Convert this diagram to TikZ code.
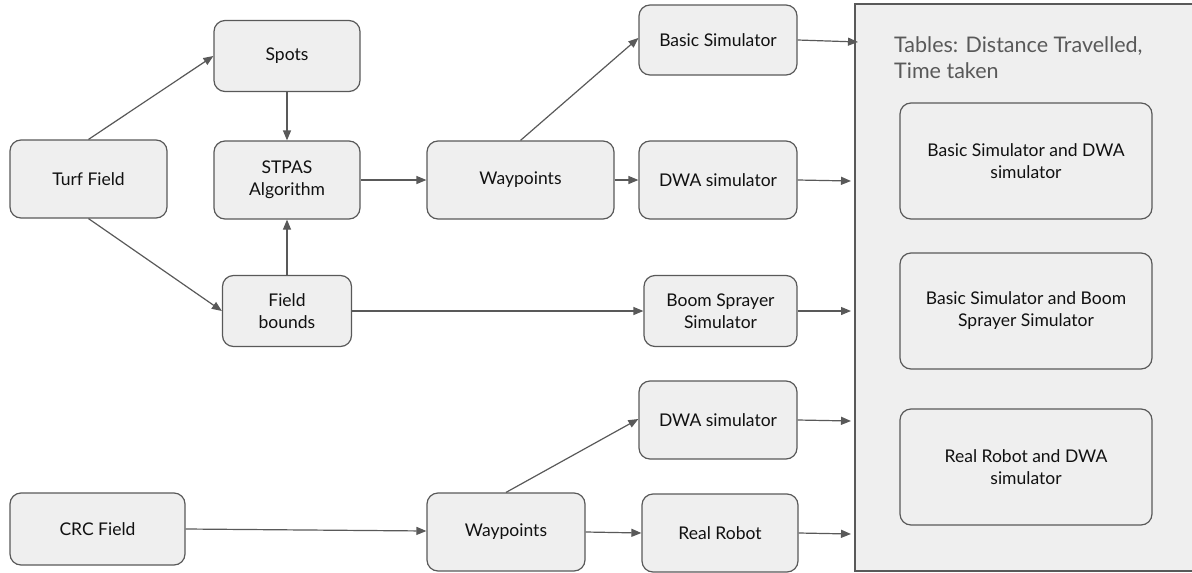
\documentclass[tikz,border=0pt]{standalone}
\usepackage{fontspec}
\setmainfont{Lato}
\usetikzlibrary{arrows.meta}
\definecolor{edge}{HTML}{595959}
\definecolor{boxfill}{HTML}{EFEFEF}
\definecolor{txt}{HTML}{111111}
\tikzset{
  box/.style={draw=edge, fill=boxfill, line width=1.2pt, rounded corners=11pt, align=center, text=txt, font=\fontsize{17.5}{22}\selectfont, inner sep=0pt},
  conn/.style={draw=edge, line width=1.2pt, -{Triangle[length=10pt,width=8pt]}},
}
\begin{document}
\begin{tikzpicture}[x=1pt,y=-1pt]
\useasboundingbox (0,0) rectangle (1192,573);
\begin{scope}
\clip (0,0) rectangle (1192,573);
\node[draw=edge, fill=boxfill, line width=1.2pt, minimum width=360, minimum height=567, inner sep=0pt] (tables) at (1035,287.5) {};
\end{scope}
\node[anchor=north west, align=left, text=edge, font=\fontsize{21.5}{26}\selectfont, inner sep=0pt] (title) at (894,36) {Tables: Distance Travelled,\\Time taken};
\node[box, minimum width=252, minimum height=116] (in1) at (1026,161) {Basic Simulator and DWA\\simulator};
\node[box, minimum width=252, minimum height=116] (in2) at (1026,311) {Basic Simulator and Boom\\Sprayer Simulator};
\node[box, minimum width=252, minimum height=116] (in3) at (1026,467) {Real Robot and DWA\\simulator};

\node[box, minimum width=157, minimum height=78] (turf) at (88.5,179) {Turf Field};
\node[box, minimum width=146, minimum height=71] (spots) at (287,56) {Spots};
\node[box, minimum width=146, minimum height=78] (stpas) at (287,180) {STPAS\\Algorithm};
\node[box, minimum width=129, minimum height=71] (bounds) at (287,311) {Field\\bounds};
\node[box, minimum width=187, minimum height=78] (way1) at (520.5,180) {Waypoints};
\node[box, minimum width=158, minimum height=70] (basic) at (718,40) {Basic Simulator};
\node[box, minimum width=158, minimum height=78] (dwa1) at (718,180) {DWA simulator};
\node[box, minimum width=153, minimum height=71] (boom) at (720.5,311) {Boom Sprayer\\Simulator};
\node[box, minimum width=158, minimum height=78] (dwa2) at (718,420) {DWA simulator};
\node[box, minimum width=156, minimum height=78] (robot) at (720,533) {Real Robot};
\node[box, minimum width=175, minimum height=72] (crc) at (97.5,529) {CRC Field};
\node[box, minimum width=158, minimum height=78] (way2) at (506,532) {Waypoints};

\coordinate (t1) at (858,42);
\coordinate (t2) at (851,181);
\coordinate (t3) at (851,311);
\coordinate (t4) at (851,421);
\coordinate (t5) at (851,534);

\draw[conn] (turf.north) -- (spots.west);
\draw[conn] (turf.south) -- (bounds.west);
\draw[conn] (spots.south) -- (stpas.north);
\draw[conn] (bounds.north) -- (stpas.south);
\draw[conn] (stpas.east) -- (way1.west);
\draw[conn] (bounds.east) -- (boom.west);
\draw[conn] (way1.north) -- ([yshift=2pt]basic.west);
\draw[conn] (way1.east) -- (dwa1.west);
\draw[conn] (basic.east) -- (t1);
\draw[conn] (dwa1.east) -- (t2);
\draw[conn] (boom.east) -- (t3);
\draw[conn] (dwa2.east) -- (t4);
\draw[conn] (robot.east) -- (t5);
\draw[conn] (crc.east) -- ([yshift=1pt]way2.west);
\draw[conn] (way2.north) -- ([yshift=1pt]dwa2.west);
\draw[conn] (way2.east) -- (robot.west);
\end{tikzpicture}
\end{document}
